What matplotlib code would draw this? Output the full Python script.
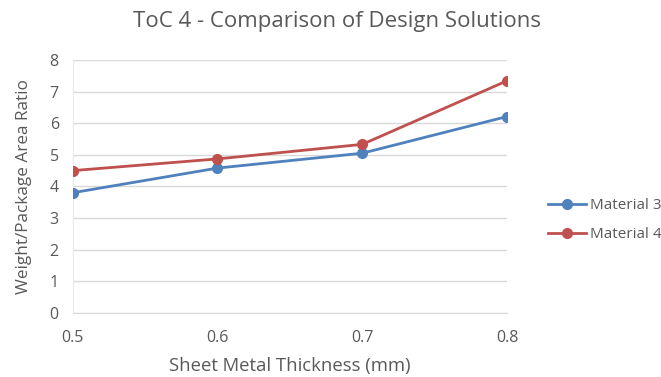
import matplotlib.pyplot as plt

# Datos
thickness = [0.5, 0.6, 0.7, 0.8]
material_3 = [3.80, 4.58, 5.05, 6.21]
material_4 = [4.50, 4.87, 5.33, 7.34]
yticks = [0, 1, 2, 3, 4, 5, 6, 7, 8]

plt.rcParams['font.family'] = ['Open Sans', 'DejaVu Sans']
gray = '#595959'

fig = plt.figure(figsize=(6.61, 3.77), dpi=100)
ax = fig.add_axes([0.110, 0.170, 0.657, 0.671])

ax.plot(thickness, material_3, color='#4F81BD', lw=2.0, marker='o', ms=7,
        label='Material 3', zorder=3)
ax.plot(thickness, material_4, color='#C0504D', lw=2.0, marker='o', ms=7,
        label='Material 4', zorder=3)

ax.set_xlim(0.5, 0.8)
ax.set_ylim(0, 8)
ax.set_xticks(thickness)
ax.set_xticklabels([str(t) for t in thickness])
ax.set_yticks(yticks)

# Cuadrícula horizontal estilo Excel
ax.grid(axis='y', color='#D9D9D9', lw=1)
ax.set_axisbelow(True)
for side in ['top', 'right']:
    ax.spines[side].set_visible(False)
ax.spines['left'].set_color('#EAEAEA')
ax.spines['bottom'].set_color('#D9D9D9')
ax.tick_params(length=0, colors=gray, labelsize=11.5)
ax.tick_params(axis='y', pad=10)
ax.tick_params(axis='x', pad=12)

# Títulos
fig.text(0.51, 0.928, 'ToC 4 - Comparison of Design Solutions',
         fontsize=16, color=gray, ha='center', va='baseline')
ax.set_xlabel('Sheet Metal Thickness (mm)', fontsize=13.3, color=gray,
              labelpad=8)
ax.set_ylabel('Weight/Package Area Ratio', fontsize=12.3, color=gray,
              labelpad=13)

fig.legend(*ax.get_legend_handles_labels(), loc='center left',
           bbox_to_anchor=(0.829, 0.416), frameon=False, fontsize=11,
           labelcolor=gray, handlelength=2.5, handletextpad=0.25,
           labelspacing=0.95, borderpad=0, borderaxespad=0)

plt.savefig('out.png')
